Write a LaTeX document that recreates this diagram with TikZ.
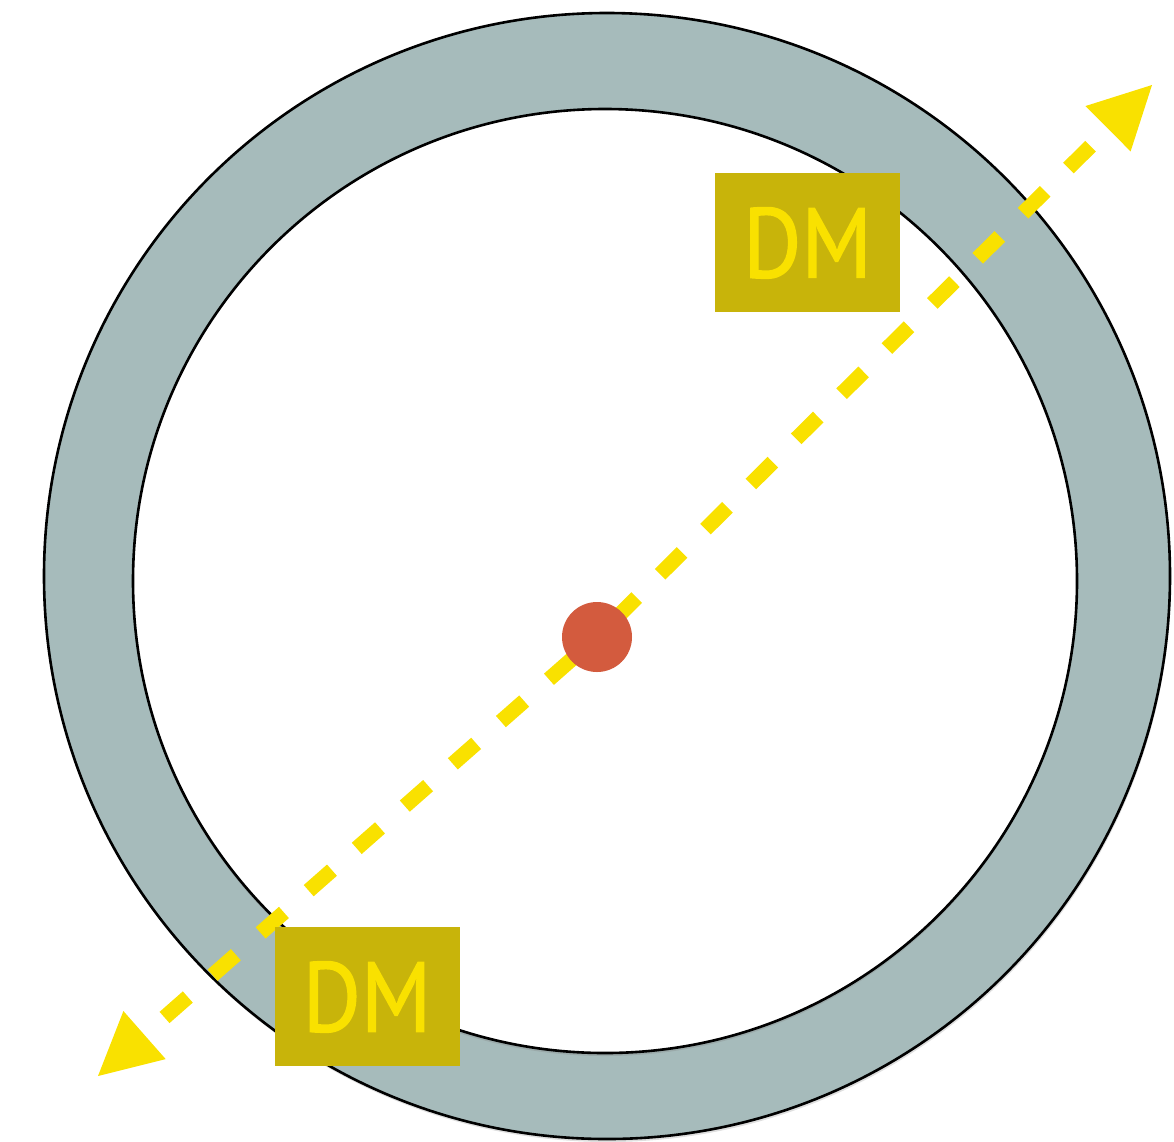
\documentclass[tikz,border=0pt]{standalone}
\usepackage{fontspec}
\usepackage{tikz}
\usetikzlibrary{arrows.meta,positioning,shadows}
\newfontfamily\dmfont[FakeBold=1.4]{PT Sans}
\definecolor{ringgray}{RGB}{166,187,187}
\definecolor{dmyellow}{RGB}{249,225,0}
\definecolor{dmolive}{RGB}{200,180,10}
\definecolor{dotred}{RGB}{211,91,62}

\begin{document}
\begin{tikzpicture}[x=1pt,y=-1pt,
  disc/.style={shape=circle,inner sep=0pt,draw=black,line width=2.6pt},
  dmbox/.style={shape=rectangle,fill=dmolive,text=dmyellow,inner sep=0pt,
    minimum width=185pt,minimum height=139pt,text depth=0pt,
    font=\dmfont\fontsize{99}{99}\selectfont},
  yarrow/.style={draw=dmyellow,line width=15pt,dash pattern=on 31pt off 33pt,
    -{Triangle[length=62pt,width=64pt,line width=0pt]}}]
\useasboundingbox (0,0) rectangle (1174,1141);
\node[disc,fill=ringgray,minimum size=1126pt,
  drop shadow={opacity=0.25,shadow xshift=1pt,shadow yshift=-3pt}] (Outer) at (607,576) {};
\node[disc,fill=white,minimum size=944pt,
  drop shadow={opacity=0.3,shadow xshift=0pt,shadow yshift=-3pt}] (Inner) at (605,581) {};
\coordinate (O) at (597,637);
\coordinate (P) at (1152,85);
\coordinate (Q) at (98,1076);
\draw[yarrow,dash phase=39pt] (O) -- (P);
\draw[yarrow,dash phase=31pt] (O) -- (Q);
\node[shape=circle,fill=dotred,inner sep=0pt,minimum size=70pt] (C) at (O) {};
\node[dmbox] (DM1) at (807.5,242.5) {\scalebox{0.9}[1]{DM}};
\node[dmbox] (DM2) at (367,996.5) {\scalebox{0.9}[1]{DM}};
\end{tikzpicture}
\end{document}
